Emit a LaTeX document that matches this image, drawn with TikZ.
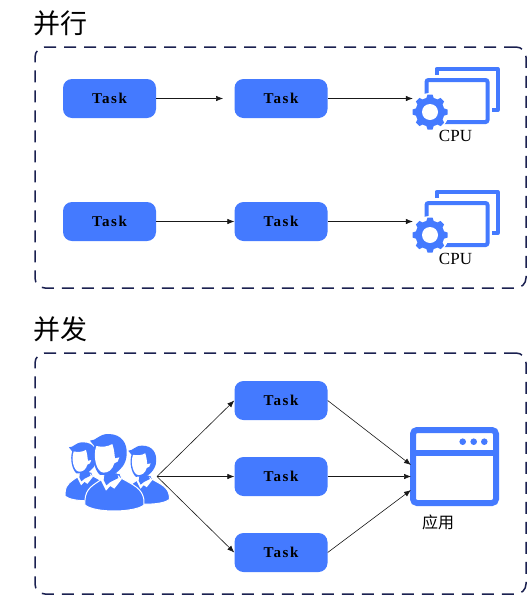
\documentclass[tikz,border=0pt]{standalone}
\usepackage{fontspec}
\setmainfont{Liberation Serif}
\newfontfamily\cjk{Noto Sans CJK SC}
\newfontfamily\taskfont[LetterSpace=10]{Liberation Serif}
\usetikzlibrary{arrows.meta, positioning}
\definecolor{custom_blue}{RGB}{68, 122, 255}
\definecolor{custom_navy}{RGB}{26, 32, 80}

\tikzset{
    task/.style={rectangle, rounded corners=9pt, fill=custom_blue, minimum width=93pt, minimum height=39pt, inner sep=0pt, font=\taskfont\bfseries\fontsize{15}{15}\selectfont},
    frame/.style={rectangle, rounded corners=10pt, draw=custom_navy, line width=1.5pt, dash pattern=on 12pt off 8pt, minimum width=491pt, minimum height=241pt, inner sep=0pt},
    title/.style={font=\cjk\fontsize{27}{27}\selectfont, inner sep=0pt},
    iconbox/.style={minimum width=86pt, minimum height=60pt, inner sep=0pt},
    link/.style={-{Latex[length=7pt, width=5.5pt]}, line width=0.6pt, black!90},
    cpuicon/.pic={
        \draw[custom_blue, line width=4pt, line join=round] (-19.5,-23) -- (-19.5,-29) -- (41.5,-29) -- (41.5,12) -- (35.5,12);
        \draw[custom_blue, line width=4pt, rounded corners=2pt] (-29.5,-18) rectangle (31.5,24);
        \fill[white] (-26,14) circle (19pt);
        \fill[custom_blue] (-26,14) circle (14.5pt);
        \foreach \a in {0,45,...,315}{
            \fill[custom_blue, rotate around={\a:(-26,14)}] (-30,1) -- (-28.5,-3.5) -- (-23.5,-3.5) -- (-22,1) -- cycle;
        }
        \fill[white] (-26,14) circle (8pt);
    },
    person/.pic={
        \fill[custom_blue, draw=white, line width=1pt] (90,240) .. controls (92,205) and (115,195) .. (140,178) -- (150,160) -- (195,160) -- (200,175) .. controls (235,195) and (262,205) .. (267,240) -- (267,255) .. controls (240,278) and (120,280) .. (90,255) -- cycle;
        \fill[white] (133,172) -- (153,212) -- (166,198) -- (178,206) -- (200,178) -- (190,166) -- (150,170) -- cycle;
        \fill[custom_blue] (146,180) -- (154,196) -- (166,186) -- (190,174) -- (186,160) -- (150,160) -- cycle;
        \fill[custom_blue] (105,62) .. controls (125,62) and (130,42) .. (160,42) .. controls (200,42) and (218,70) .. (215,105) .. controls (213,135) and (195,150) .. (178,163) -- (135,165) .. controls (118,150) and (108,110) .. (118,78) -- cycle;
        \fill[white] (124,78) .. controls (140,82) and (160,80) .. (172,72) .. controls (178,90) and (178,100) .. (180,115) -- (193,112) -- (188,125) -- (178,130) .. controls (172,150) and (160,158) .. (146,158) .. controls (125,158) and (112,110) .. (124,78) -- cycle;
    }
}

\begin{document}
\begin{tikzpicture}[x=1pt, y=-1pt]
    \useasboundingbox (0,0) rectangle (527,595);

    % -------- Parallelo --------
    \node[title] (parallel) at (60.5,23) {并行};
    \node[frame] (boxa) at (280.5,167.5) {};

    \node[task] (ta) at (109.5,98.5) {Task};
    \node[task] (tb) at (281,98.5) {Task};
    \node[task] (tc) at (109.5,221.5) {Task};
    \node[task] (td) at (281,221.5) {Task};

    \node[iconbox] (cpua) at (456,98) {};
    \node[iconbox] (cpub) at (456,221) {};
    \pic at (cpua) {cpuicon};
    \pic at (cpub) {cpuicon};
    \node[inner sep=0pt, font=\fontsize{17}{17}\selectfont] (cpulaba) at (455.5,135.5) {CPU};
    \node[inner sep=0pt, font=\fontsize{17}{17}\selectfont] (cpulabb) at (455.5,258.5) {CPU};

    \coordinate (tbin) at (223,98.5);
    \draw[link] (ta) -- (tbin);
    \draw[link] (tb) -- (tb -| cpua.west);
    \draw[link] (tc) -- (td);
    \draw[link] (td) -- (td -| cpub.west);

    % -------- Concorrente --------
    \node[title] (concurrent) at (60.5,329) {并发};
    \node[frame] (boxb) at (280.5,473.5) {};

    \node[task] (te) at (281,400.5) {Task};
    \node[task] (tf) at (281,476.5) {Task};
    \node[task] (tg) at (281,552.5) {Task};

    % Utenti: coordinate prese dal ritaglio 3x
    \begin{scope}[shift={(55,420)}, x=0.3333pt, y=-0.3333pt]
        \pic[transform shape, scale=0.76] at (-38,35) {person};
        \pic[transform shape, scale=0.76] at (140,45) {person};
        \pic at (0,0) {person};
    \end{scope}
    \coordinate (users) at (157,476.5);

    \draw[link] (users) -- (te.west);
    \draw[link] (users) -- (tf.west);
    \draw[link] (users) -- (tg.west);

    % Finestra applicazione
    \node[draw=custom_blue, line width=6pt, rounded corners=4pt, minimum width=83pt, minimum height=73pt, inner sep=0pt] (app) at (454.5,466.5) {};
    \draw[custom_blue, line width=6pt] (413,452.5) -- (496,452.5);
    \foreach \x in {462.7,473.7,484.3}{
        \fill[custom_blue] (\x,441.7) circle (3.3pt);
    }
    \node[inner sep=0pt, font=\cjk\fontsize{16}{16}\selectfont] (applab) at (438,522) {应用};

    \coordinate (appa) at (411,465);
    \coordinate (appb) at (411,476.5);
    \coordinate (appc) at (411,490);
    \draw[link] (te.east) -- (appa);
    \draw[link] (tf.east) -- (appb);
    \draw[link] (tg.east) -- (appc);
\end{tikzpicture}
\end{document}
